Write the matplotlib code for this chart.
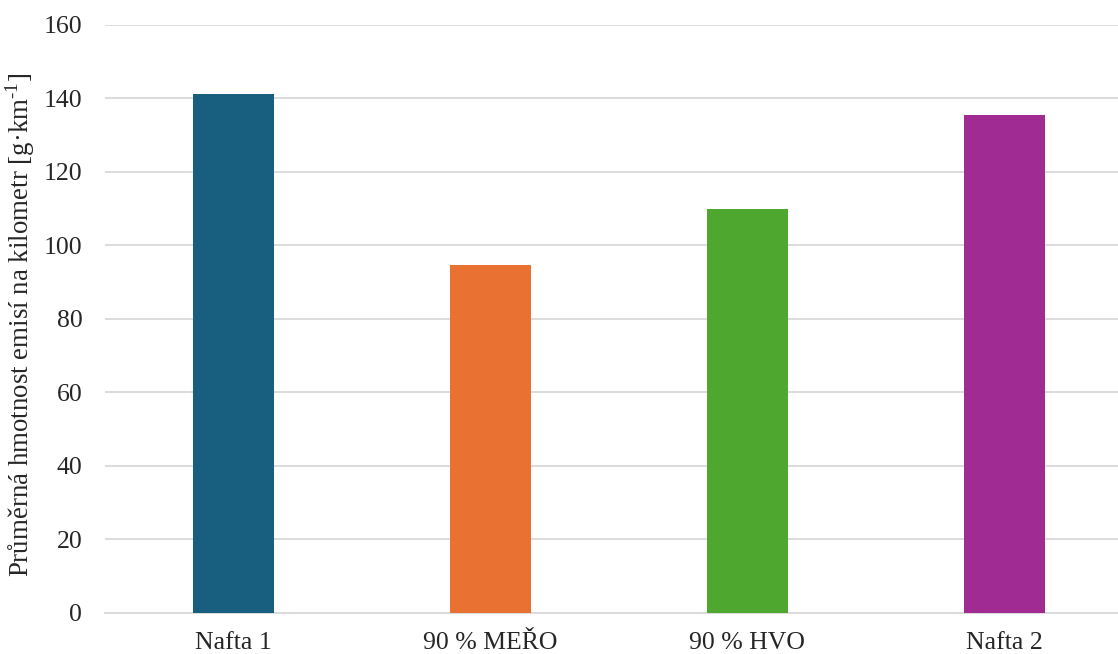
import matplotlib.pyplot as plt

categories = ['Nafta 1', '90 % MEŘO', '90 % HVO', 'Nafta 2']
values = [141.2, 94.7, 109.8, 135.4]
colors = ['#175e7f', '#e97132', '#4ea72e', '#a02b93']

plt.rcParams['font.family'] = ['Liberation Serif', 'DejaVu Serif']
plt.rcParams['mathtext.fontset'] = 'custom'
plt.rcParams['mathtext.rm'] = 'Liberation Serif'

fig = plt.figure(figsize=(11.18, 6.54), dpi=100)
# the plot area runs a little past the right edge, as in the original
ax = fig.add_axes([0.0935, 0.0627, 0.9195, 0.8991])

x = range(len(categories))
ax.bar(x, values, width=0.315, color=colors, zorder=3)

ax.set_xlim(-0.5, len(categories) - 0.5)
ax.set_ylim(0, 160)
ax.set_yticks(range(0, 161, 20))
ax.set_xticks(list(x))
ax.set_xticklabels(categories)
ax.tick_params(axis='both', length=0, labelsize=18.5, colors='#262626')
ax.tick_params(axis='x', pad=14)
ax.tick_params(axis='y', pad=16)
ax.grid(axis='y', color='#d9d9d9', linewidth=1.3, zorder=0)
for side in ['top', 'right', 'left']:
    ax.spines[side].set_visible(False)
ax.spines['bottom'].set_color('#d9d9d9')
ax.spines['bottom'].set_linewidth(1.3)

ax.set_ylabel(r'Průměrná hmotnost emisí na kilometr [g·km$^{\text{-1}}$]',
              fontsize=19.4, color='#262626')
ax.yaxis.set_label_coords(-0.066, 0.49)

plt.savefig('out.png', dpi=100)
